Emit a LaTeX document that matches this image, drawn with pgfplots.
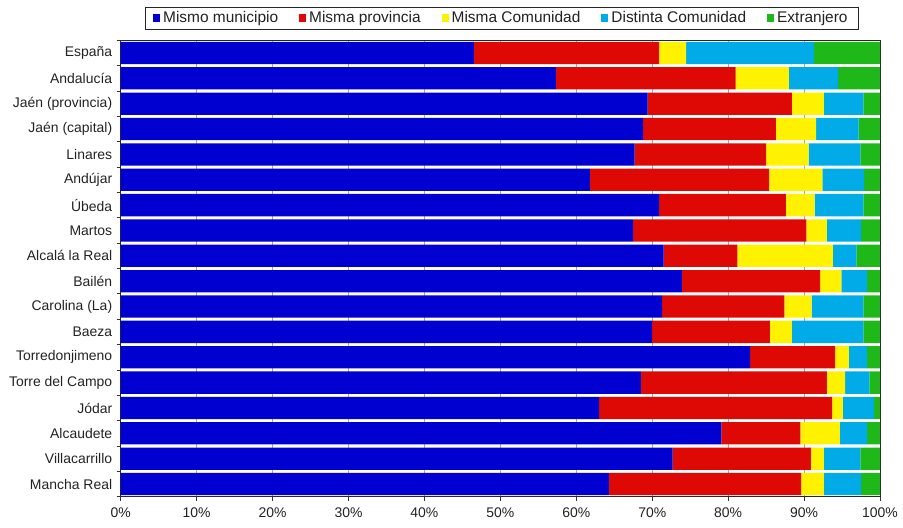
\documentclass[border=0pt]{standalone}
\usepackage{fontspec}
\setmainfont{Liberation Sans}
\usepackage{pgfplots}
\pgfplotsset{compat=1.18}
\usepackage{pgfplotstable}

\definecolor{cBlue}{RGB}{0,0,208}
\definecolor{cRed}{RGB}{222,8,5}
\definecolor{cYellow}{RGB}{255,242,0}
\definecolor{cCyan}{RGB}{0,171,232}
\definecolor{cGreen}{RGB}{30,184,24}
\definecolor{cText}{RGB}{34,34,34}

\pgfplotstableread{
y a b c d e
0 46.5 24.4 3.55 16.85 8.7
1 57.3 23.7 7.0 6.5 5.5
2 69.4 19.0 4.2 5.2 2.2
3 68.8 17.5 5.3 5.6 2.8
4 67.7 17.3 5.6 6.8 2.6
5 61.8 23.6 7.0 5.5 2.1
6 70.9 16.7 3.8 6.4 2.2
7 67.5 22.8 2.7 4.5 2.5
8 71.5 9.7 12.6 3.1 3.1
9 73.9 18.2 2.8 3.4 1.7
10 71.3 16.1 3.6 6.8 2.2
11 70.0 15.5 2.9 9.4 2.2
12 82.9 11.2 1.8 2.4 1.7
13 68.5 24.5 2.4 3.2 1.4
14 63.0 30.7 1.4 4.1 0.8
15 79.1 10.4 5.2 3.6 1.7
16 72.7 18.2 1.7 4.8 2.6
17 64.3 25.3 3.0 4.9 2.5
}\data

\begin{document}
\begin{tikzpicture}
\begin{axis}[name=ax, scale only axis, width=759.3bp, height=456.4bp,
  xbar stacked, bar width=22.3bp,
  xmin=0, xmax=100, ymin=-0.5, ymax=17.5, y dir=reverse,
  ytick={0,...,17},
  yticklabels={España,Andalucía,Jaén (provincia),Jaén (capital),Linares,Andújar,Úbeda,Martos,Alcalá la Real,Bailén,Carolina (La),Baeza,Torredonjimeno,Torre del Campo,Jódar,Alcaudete,Villacarrillo,Mancha Real},
  xtick={0,10,...,100},
  xticklabels={0\%,10\%,20\%,30\%,40\%,50\%,60\%,70\%,80\%,90\%,100\%},
  xmajorgrids, grid style={gray!70, line width=0.8bp},
  tick align=outside, major tick length=4bp,
  xtick pos=bottom, ytick pos=left,
  ytick style={draw=none},
  xtick style={draw=black!80, line width=0.8bp},
  extra y ticks={-0.5,0.5,...,17.5},
  extra y tick labels={},
  extra y tick style={ytick style={draw=black!80, line width=0.8bp}},
  tick label style={font=\fontsize{14}{16}\selectfont, text=cText},
  yticklabel style={xshift=-1bp},
  xticklabel style={yshift=-4bp},
  axis line style={draw=black!85, line width=1bp},
  legend style={at={(0.502,1)}, anchor=south, yshift=11bp,
    legend columns=-1, draw=black!85, line width=0.8bp,
    font=\fontsize{15.5}{18}\selectfont, text=cText,
    inner ysep=2.5bp, inner xsep=8bp,
    nodes={inner xsep=3bp},
    /tikz/every even column/.append style={column sep=18bp}},
  legsq/.style={legend image code/.code={\fill[##1,draw=none] (0bp,-3.5bp) rectangle (7bp,4bp);}},
]
\addplot[fill=cBlue, draw=none, legsq] table[x=a, y=y] {\data};
\addplot[fill=cRed, draw=none, legsq] table[x=b, y=y] {\data};
\addplot[fill=cYellow, draw=none, legsq] table[x=c, y=y] {\data};
\addplot[fill=cCyan, draw=none, legsq] table[x=d, y=y] {\data};
\addplot[fill=cGreen, draw=none, legsq] table[x=e, y=y] {\data};
\legend{Mismo municipio, Misma provincia, Misma Comunidad, Distinta Comunidad, Extranjero}
\draw[black!85, line width=1bp] (rel axis cs:0,0) rectangle (rel axis cs:1,1);
\end{axis}
\pgfresetboundingbox
\path[use as bounding box] ([shift={(-120.7bp,-31.3bp)}]ax.south west) rectangle ([shift={(23bp,40.3bp)}]ax.north east);
\end{tikzpicture}
\end{document}
